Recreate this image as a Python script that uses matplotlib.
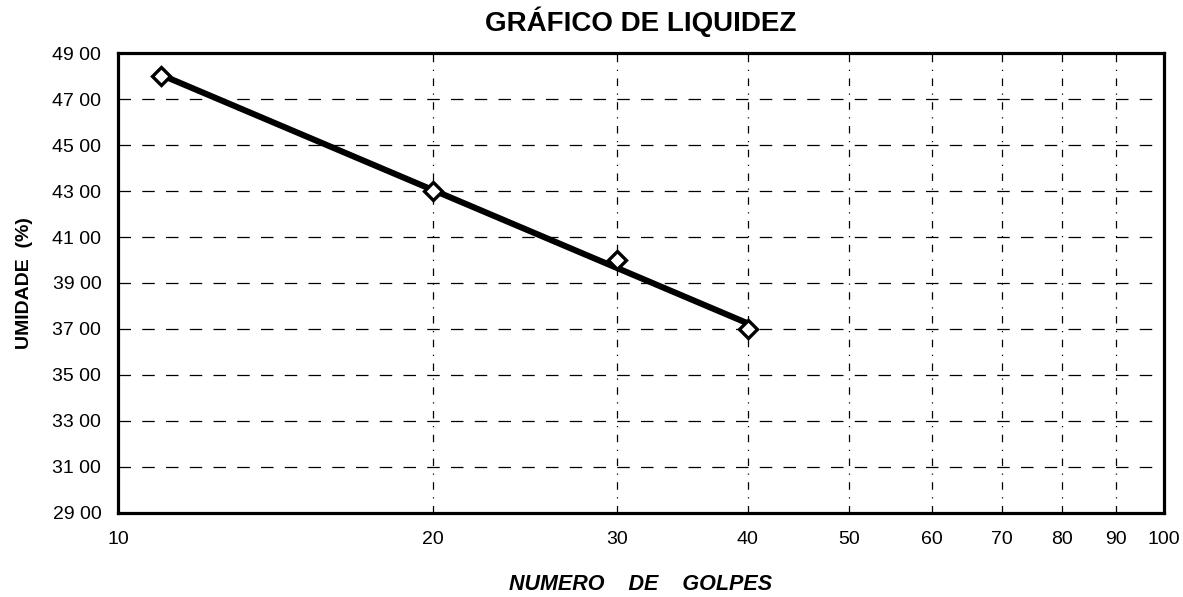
import numpy as np
import matplotlib
matplotlib.use("Agg")
import matplotlib.pyplot as plt
import matplotlib.ticker as ticker

plt.rcParams['font.family'] = ['Liberation Sans', 'DejaVu Sans']

# ensaio de Casagrande: golpes x umidade
golpes = [11, 20, 30, 40]
umidade = [48.0, 43.0, 40.0, 37.0]

y_ticks = [29, 31, 33, 35, 37, 39, 41, 43, 45, 47, 49]
y_labels = ["29 00", "31 00", "33 00", "35 00", "37 00", "39 00",
            "41 00", "43 00", "45 00", "47 00", "49 00"]
x_ticks = [10, 20, 30, 40, 50, 60, 70, 80, 90, 100]
x_labels = ["10", "20", "30", "40", "50", "60", "70", "80", "90", "100"]

fig = plt.figure(figsize=(11.83, 5.97), dpi=100)
ax = fig.add_axes([0.0997, 0.141, 0.884, 0.770])

# reta de tendencia logaritmica
coef = np.polyfit(np.log10(golpes), umidade, 1)
xs = np.array([golpes[0], golpes[-1]])
ax.plot(xs, np.polyval(coef, np.log10(xs)), color='black', lw=4.4,
        solid_capstyle='round', zorder=3)
ax.plot(golpes, umidade, linestyle='none', marker='D', ms=9,
        mfc='white', mec='black', mew=2.4, zorder=4)

ax.set_xscale('log')
ax.set_xlim(10, 100)
ax.set_ylim(29, 49)

# grade tracejada
for y in y_ticks[1:-1]:
    ax.axhline(y, color='black', lw=0.9, ls=(0, (10, 9)), zorder=1)
for x in x_ticks[1:-1]:
    ax.axvline(x, color='black', lw=0.9, ls=(0, (6, 6, 1, 6)), zorder=1)

ax.xaxis.set_major_locator(ticker.FixedLocator(x_ticks))
ax.xaxis.set_minor_locator(ticker.NullLocator())
ax.set_xticks(x_ticks)
ax.set_xticklabels(x_labels)
ax.set_yticks(y_ticks)
ax.set_yticklabels(y_labels)
ax.tick_params(axis='both', length=0, labelsize=14)
ax.tick_params(axis='x', pad=13)
ax.tick_params(axis='y', pad=12)

for s in ax.spines.values():
    s.set_linewidth(2.3)

ax.set_title("GRÁFICO DE LIQUIDEZ", fontsize=20, fontweight='bold', pad=16)
ax.set_xlabel("NUMERO    DE    GOLPES", fontsize=15.5, fontweight='bold',
              style='italic', labelpad=19)
ax.set_ylabel("UMIDADE  (%)", fontsize=14, fontweight='bold', labelpad=14)

fig.savefig("out.png", dpi=100, facecolor='white')
